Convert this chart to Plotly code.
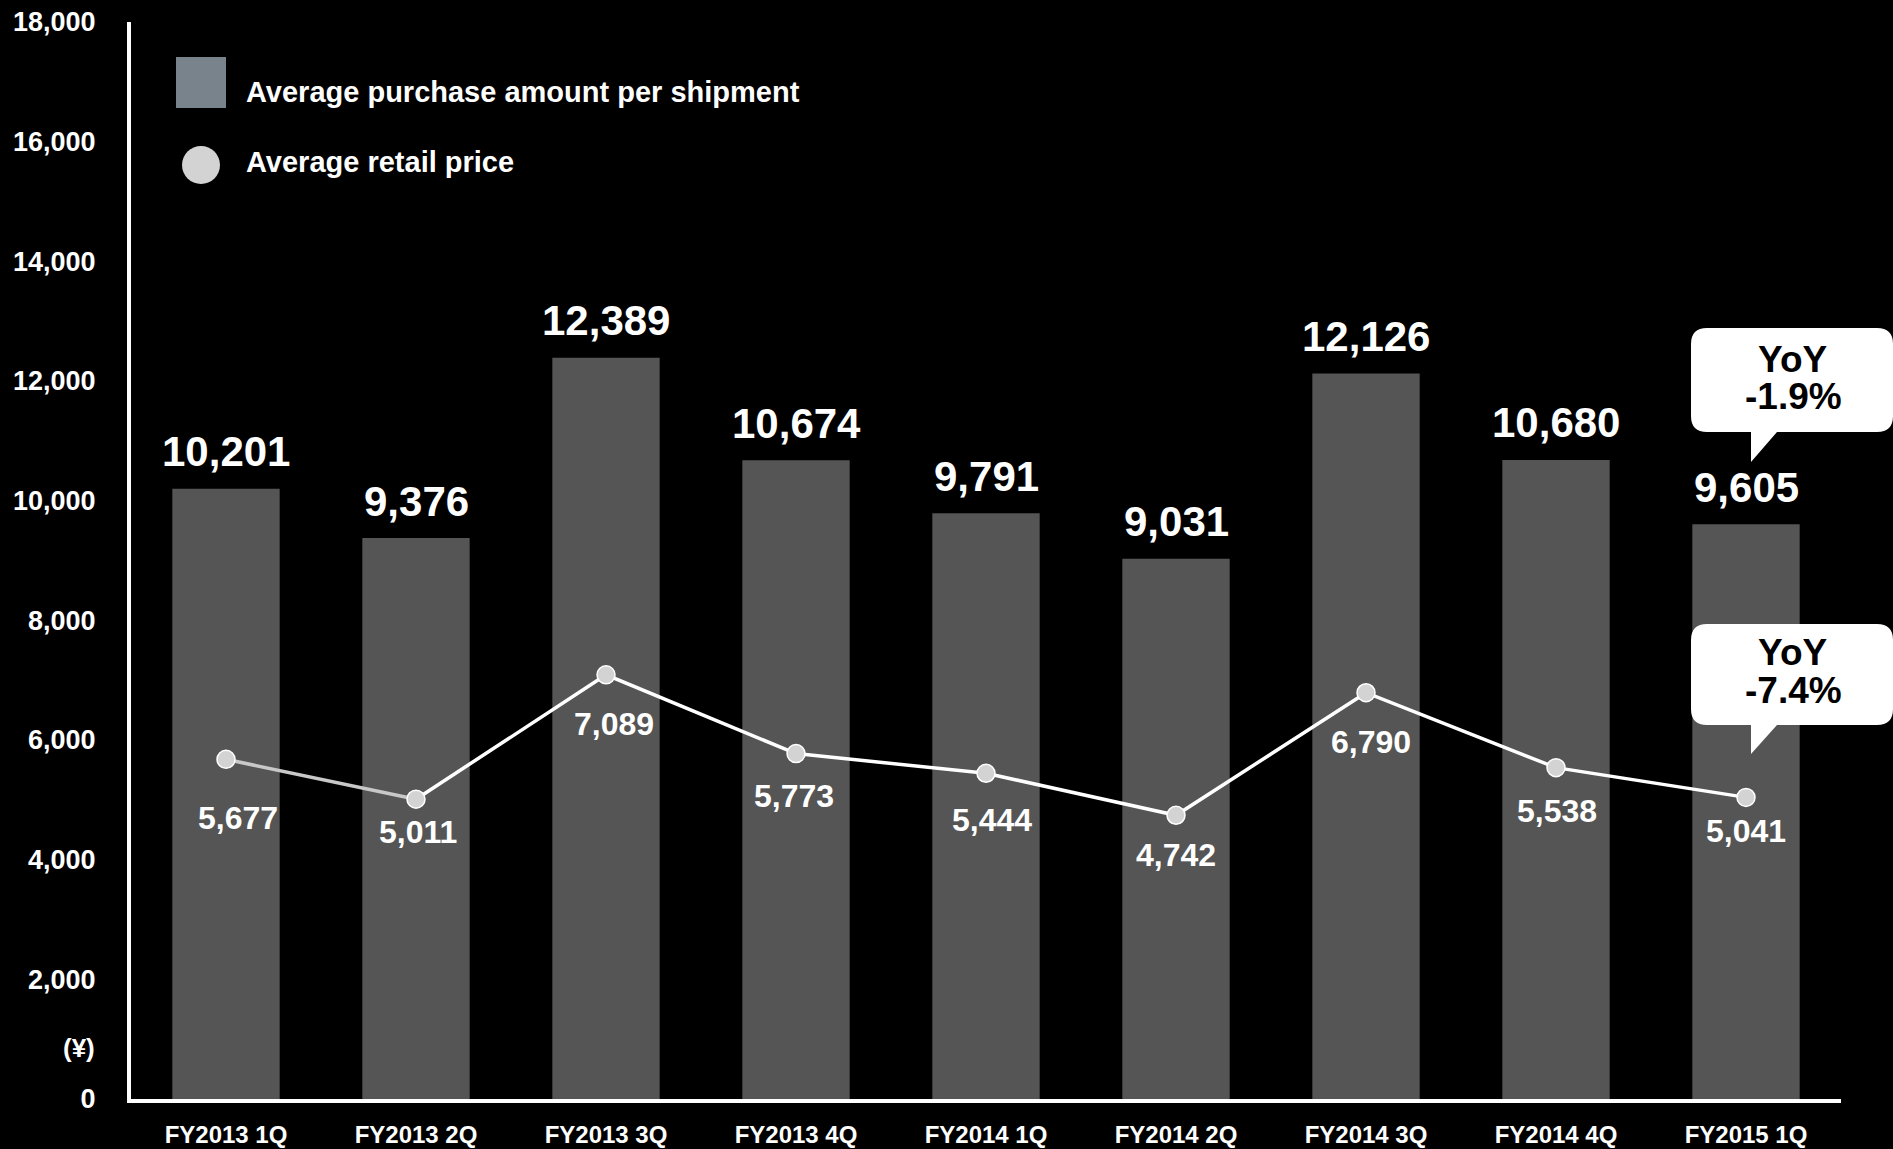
import plotly.graph_objects as go

# Quarterly figures (yen)
quarters = ["FY2013 1Q", "FY2013 2Q", "FY2013 3Q", "FY2013 4Q", "FY2014 1Q",
            "FY2014 2Q", "FY2014 3Q", "FY2014 4Q", "FY2015 1Q"]
purchase_per_shipment = [10201, 9376, 12389, 10674, 9791, 9031, 12126, 10680, 9605]
retail_price = [5677, 5011, 7089, 5773, 5444, 4742, 6790, 5538, 5041]
yoy_purchase = "-1.9%"
yoy_retail = "-7.4%"

FONT = "Liberation Sans, Arial, Helvetica, sans-serif"
BAR_COLOR = "#555555"
LEGEND_BAR_COLOR = "#78838b"
DOT_COLOR = "#d3d3d3"

# Figure / plot-area geometry in pixels
FIG_W, FIG_H = 1893, 1149
M_L, M_R, M_T, M_B = 131, 52, 22, 50
PLOT_W = FIG_W - M_L - M_R
PLOT_H = FIG_H - M_T - M_B


def px(x):
    return (x - M_L) / PLOT_W


def py(y):
    return (M_T + PLOT_H - y) / PLOT_H


def pixel_path(cmds):
    out = []
    for c in cmds:
        if isinstance(c, str):
            out.append(c)
        else:
            out.append(f"{px(c[0]):.5f},{py(c[1]):.5f}")
    return " ".join(out)


def bubble(x0, y0, x1, y1, r, tail_l, tail_r, tip_y):
    return pixel_path([
        "M", (x0 + r, y0), "L", (x1 - r, y0), "Q", (x1, y0), (x1, y0 + r),
        "L", (x1, y1 - r), "Q", (x1, y1), (x1 - r, y1),
        "L", (tail_r, y1), "L", (tail_l, tip_y), "L", (tail_l, y1),
        "L", (x0 + r, y1), "Q", (x0, y1), (x0, y1 - r),
        "L", (x0, y0 + r), "Q", (x0, y0), (x0 + r, y0), "Z",
    ])


fig = go.Figure()

fig.add_trace(go.Bar(
    x=quarters, y=purchase_per_shipment, marker_color=BAR_COLOR,
    marker_line_width=0, showlegend=False, hoverinfo="skip",
))

# First segment of the price line is drawn in light grey, the rest in white
fig.add_trace(go.Scatter(
    x=quarters[:2], y=retail_price[:2], mode="lines",
    line=dict(color="#c8c8c8", width=3.5), showlegend=False, hoverinfo="skip",
))
fig.add_trace(go.Scatter(
    x=quarters[1:], y=retail_price[1:], mode="lines",
    line=dict(color="#ffffff", width=3.5), showlegend=False, hoverinfo="skip",
))
fig.add_trace(go.Scatter(
    x=quarters, y=retail_price, mode="markers",
    marker=dict(size=18, color=DOT_COLOR, line=dict(color="#ffffff", width=1.5)),
    showlegend=False, hoverinfo="skip",
))

annotations = []
for q, v in zip(quarters, purchase_per_shipment):
    annotations.append(dict(
        x=q, y=v, xref="x", yref="y", text=f"{v:,}", showarrow=False,
        yanchor="middle", yshift=37,
        font=dict(family=FONT, size=42, color="white", weight="bold"),
    ))

label_dy = [59, 33, 49, 42, 47, 40, 49, 43, 34]
label_dx = [12, 2, 8, -2, 6, 0, 5, 1, 0]
for q, v, dy, dx in zip(quarters, retail_price, label_dy, label_dx):
    annotations.append(dict(
        x=q, y=v, xref="x", yref="y", text=f"{v:,}", showarrow=False,
        yanchor="middle", yshift=-dy, xshift=dx,
        font=dict(family=FONT, size=32, color="white", weight="bold"),
    ))

# Legend entries
legend_font = dict(family=FONT, size=29, color="white", weight="bold")
annotations.append(dict(x=px(244), y=py(92), xref="paper", yref="paper",
                        text="Average purchase amount per shipment", showarrow=False,
                        xanchor="left", yanchor="middle", font=legend_font))
annotations.append(dict(x=px(244), y=py(162), xref="paper", yref="paper",
                        text="Average retail price", showarrow=False,
                        xanchor="left", yanchor="middle", font=legend_font))

# Unit label
annotations.append(dict(x=px(97), y=py(1048), xref="paper", yref="paper",
                        text="(¥)", showarrow=False, xanchor="right", yanchor="middle",
                        font=dict(family=FONT, size=26, color="white", weight="bold")))

# YoY callouts
callout_font = dict(family=FONT, size=37, color="black", weight="bold")
for text, line1_y, line2_y in [(yoy_purchase, 359, 397), (yoy_retail, 652, 691)]:
    for t, yy in (("YoY", line1_y), (text, line2_y)):
        annotations.append(dict(x=px(1793), y=py(yy), xref="paper", yref="paper",
                                text=t, showarrow=False,
                                xanchor="center", yanchor="middle",
                                font=callout_font))

shapes = [
    dict(type="rect", xref="paper", yref="paper",
         x0=px(176), x1=px(226), y0=py(108), y1=py(57),
         fillcolor=LEGEND_BAR_COLOR, line=dict(width=0)),
    dict(type="circle", xref="paper", yref="paper",
         x0=px(182), x1=px(220), y0=py(184), y1=py(146),
         fillcolor=DOT_COLOR, line=dict(width=0)),
    dict(type="path", xref="paper", yref="paper",
         path=bubble(1691, 328, 1893, 432, 16, 1751, 1777, 462),
         fillcolor="white", line=dict(width=0)),
    dict(type="path", xref="paper", yref="paper",
         path=bubble(1691, 624, 1893, 725, 16, 1751, 1777, 754),
         fillcolor="white", line=dict(width=0)),
]

fig.update_layout(
    width=FIG_W, height=FIG_H,
    margin=dict(l=M_L, r=M_R, t=M_T, b=M_B, pad=0),
    paper_bgcolor="black", plot_bgcolor="black",
    bargap=0.435,
    showlegend=False,
    annotations=annotations,
    shapes=shapes,
    xaxis=dict(
        type="category", range=[-0.5, 8.5], showgrid=False, zeroline=False,
        showline=True, linecolor="white", linewidth=4, ticks="",
        ticklabelstandoff=11, automargin=False,
        tickfont=dict(family=FONT, size=24, color="white", weight="bold"),
    ),
    yaxis=dict(
        range=[0, 18000], dtick=2000, tickformat=",", showgrid=False, zeroline=False,
        showline=True, linecolor="white", linewidth=4, ticks="",
        ticklabelstandoff=26, automargin=False,
        tickfont=dict(family=FONT, size=27, color="white", weight="bold"),
    ),
)

fig.write_html("out.html")
